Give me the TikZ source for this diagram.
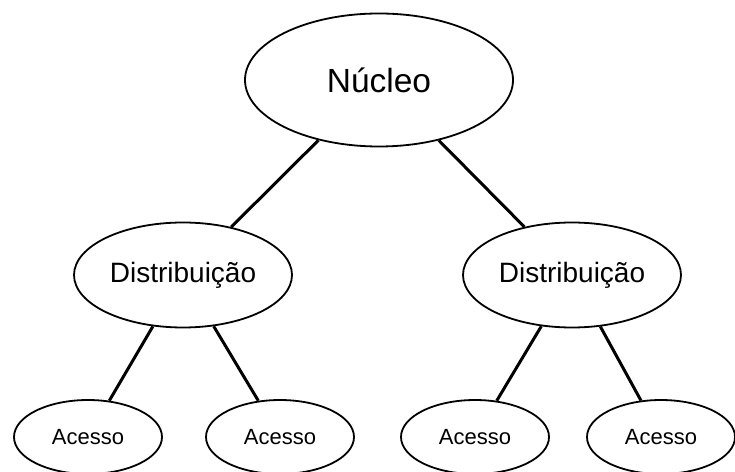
\documentclass[tikz,border=0pt]{standalone}
\usepackage{fontspec}
\setmainfont{Liberation Sans}
\usepackage{tikz}
\usetikzlibrary{shapes.geometric}

\begin{document}
\begin{tikzpicture}
[x=1pt,y=1pt,line width=3pt,
  ellipse node/.style={ellipse,draw,line width=1.8pt,inner sep=0pt},
  top node/.style={ellipse node,minimum width=268pt,minimum height=133pt,font=\fontsize{33.5}{36}\selectfont},
  dist node/.style={ellipse node,minimum width=218pt,minimum height=105pt,font=\fontsize{28}{30}\selectfont},
  leaf node/.style={ellipse node,minimum width=148pt,minimum height=74pt,font=\fontsize{22}{24}\selectfont}]

  \useasboundingbox (0,0) rectangle (735,471);

  \node [top node] (Nucleo) at 		(379,391) 	{Núcleo};
  \node [dist node] (DistA) at 		(183,196) 	{Distribuição};
  \node [dist node] (DistB) at 		(572,196) 	{Distribuição};
  \node [leaf node] (AcessoA) at 	(88,34) 	{Acesso};
  \node [leaf node] (AcessoB) at 	(280,34) 	{Acesso};
  \node [leaf node] (AcessoC) at 	(475,34) 	{Acesso};
  \node [leaf node] (AcessoD) at 	(661,34) 	{Acesso};

   \foreach \from/\to in {Nucleo/DistA,Nucleo/DistB,DistA/AcessoA,DistA/AcessoB,DistB/AcessoC,DistB/AcessoD}
     \draw (\from) -- (\to);

\end{tikzpicture}
\end{document}
